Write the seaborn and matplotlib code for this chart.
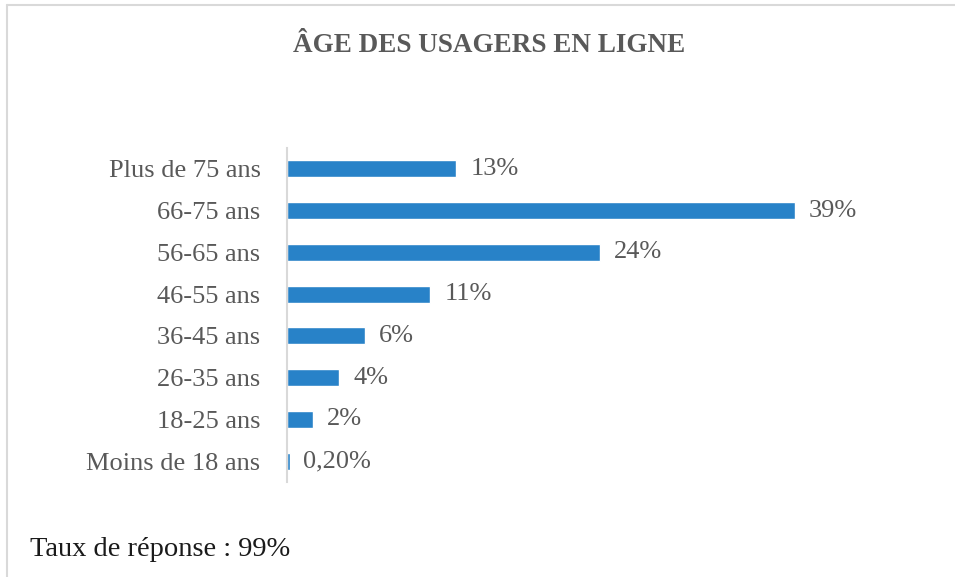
import matplotlib
matplotlib.use("Agg")
import matplotlib.pyplot as plt
import seaborn as sns
import pandas as pd
from matplotlib.lines import Line2D

# data
categories = ["Plus de 75 ans", "66-75 ans", "56-65 ans", "46-55 ans",
              "36-45 ans", "26-35 ans", "18-25 ans", "Moins de 18 ans"]
values = [13, 39, 24, 11, 6, 4, 2, 0.2]
value_labels = ["13%", "39%", "24%", "11%", "6%", "4%", "2%", "0,20%"]

df = pd.DataFrame({"Age": categories, "Pct": values})

sns.set_style("white")
plt.rcParams['font.family'] = ['Liberation Serif', 'DejaVu Serif']

grey = "#595959"
blue = "#2882c8"

fig = plt.figure(figsize=(9.55, 5.77), dpi=100)
ax = fig.add_axes([287/955, 1 - 482/577, (900-287)/955, (482-148)/577])

sns.barplot(data=df, x="Pct", y="Age", order=categories, color=blue,
            width=0.41, saturation=1, ax=ax, orient="h")

ax.bar_label(ax.containers[0], labels=value_labels, padding=10,
             fontsize=19, color=grey)

ax.set_xlim(0, 47.05)
ax.set_ylim(7.5, -0.5)
ax.set_xlabel("")
ax.set_ylabel("")
ax.set_xticks([])
ax.tick_params(axis="y", length=0, pad=19, labelsize=19, labelcolor=grey)
for s in ["top", "right", "bottom"]:
    ax.spines[s].set_visible(False)
ax.spines["left"].set_color("#d9d9d9")
ax.spines["left"].set_linewidth(1.5)

# title
fig.text(0.512, 1 - 46/577, "ÂGE DES USAGERS EN LIGNE", ha="center", va="center",
         fontsize=19.5, fontweight="bold", color=grey)

# footnote
fig.text(30/955, 1 - 550/577, "Taux de réponse : 99%", ha="left", va="center",
         fontsize=20.5, color="#1a1a1a")

# chart frame lines (top and left)
fig.add_artist(Line2D([7/955, 1], [1 - 5/577, 1 - 5/577], color="#d9d9d9", lw=1.5))
fig.add_artist(Line2D([7/955, 7/955], [0, 1 - 5/577], color="#d9d9d9", lw=1.5))

fig.savefig("out.png", dpi=100)
